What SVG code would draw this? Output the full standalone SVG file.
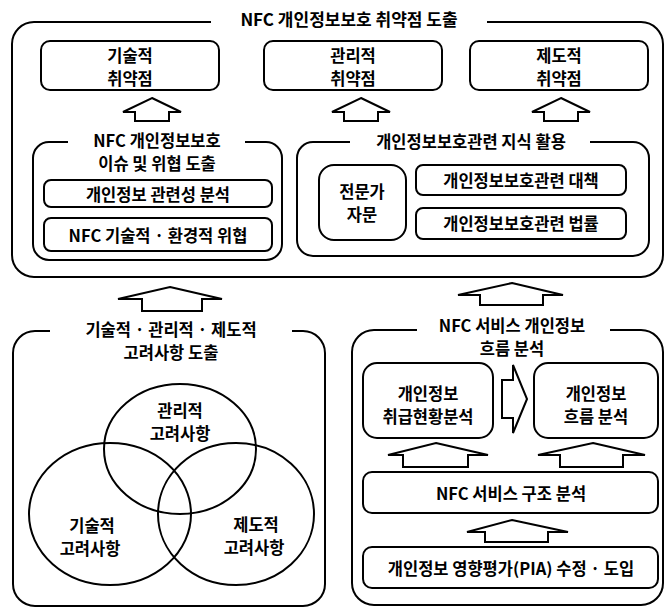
<svg xmlns="http://www.w3.org/2000/svg" width="666" height="608" viewBox="0 0 666 608">
<style>
.frame{fill:none;stroke:#000;stroke-width:2}
.box{fill:#fff;stroke:#000;stroke-width:2}
.arrow{fill:#fff;stroke:#000;stroke-width:2;stroke-linejoin:miter}
.c{fill:none;stroke:#000;stroke-width:2}
text{font-family:"Noto Sans CJK KR","Noto Sans",sans-serif;font-size:16.5px;font-weight:bold;fill:#000;text-anchor:middle;dominant-baseline:central}
</style>
<rect width="666" height="608" fill="#fff"/>

<g id="top-section">
  <path class="frame" d="M211,22 H34 A22,22 0 0 0 12,44 V255 A22,22 0 0 0 34,277 H641 A22,22 0 0 0 663,255 V44 A22,22 0 0 0 641,22 H487"/>
  <text x="349" y="18" style="font-size:17px">NFC 개인정보보호 취약점 도출</text>
</g>

<g id="tech-vuln">
  <rect class="box" x="41" y="41" width="178" height="49" rx="9"/>
  <text x="130" y="54.5">기술적<tspan x="130" dy="23">취약점</tspan></text>
</g>
<g id="mgmt-vuln">
  <rect class="box" x="264" y="41" width="178" height="49" rx="9"/>
  <text x="353" y="54.5">관리적<tspan x="353" dy="23">취약점</tspan></text>
</g>
<g id="inst-vuln">
  <rect class="box" x="470" y="41" width="178" height="49" rx="9"/>
  <text x="559" y="54.5">제도적<tspan x="559" dy="23">취약점</tspan></text>
</g>

<g id="issue-group">
  <path class="frame" d="M68,142 H49 A16,16 0 0 0 33,158 V244 A16,16 0 0 0 49,260 H266 A16,16 0 0 0 282,244 V158 A16,16 0 0 0 266,142 H245"/>
  <text x="157" y="139.5">NFC 개인정보보호<tspan x="157" dy="23">이슈 및 위협 도출</tspan></text>
</g>
<g id="relevance">
  <rect class="box" x="44" y="180" width="228" height="27" rx="7"/>
  <text x="158" y="194">개인정보 관련성 분석</text>
</g>
<g id="threat">
  <rect class="box" x="44" y="218" width="228" height="33" rx="7"/>
  <text x="158" y="235">NFC 기술적 · 환경적 위협</text>
</g>

<g id="knowledge-group">
  <path class="frame" d="M350,142 H313 A16,16 0 0 0 297,158 V240 A16,16 0 0 0 313,256 H633 A16,16 0 0 0 649,240 V158 A16,16 0 0 0 633,142 H590"/>
  <text x="471" y="141">개인정보보호관련 지식 활용</text>
</g>
<g id="expert">
  <rect class="box" x="319" y="165" width="87" height="75" rx="15"/>
  <text x="362" y="190.5">전문가<tspan x="362" dy="23">자문</tspan></text>
</g>
<g id="measures">
  <rect class="box" x="416" y="165" width="210" height="30" rx="7"/>
  <text x="521" y="180">개인정보보호관련 대책</text>
</g>
<g id="laws">
  <rect class="box" x="416" y="208" width="210" height="31" rx="7"/>
  <text x="521" y="223">개인정보보호관련 법률</text>
</g>

<g id="consider-group">
  <path class="frame" d="M50,331 H35 A22,22 0 0 0 13,353 V584 A22,22 0 0 0 35,606 H303 A22,22 0 0 0 325,584 V353 A22,22 0 0 0 303,331 H292"/>
  <text x="171" y="328.5">기술적 · 관리적 · 제도적<tspan x="171" dy="23">고려사항 도출</tspan></text>
</g>
<g id="venn">
  <ellipse class="c" cx="180" cy="449" rx="76" ry="65"/>
  <ellipse class="c" cx="110" cy="514" rx="81" ry="71"/>
  <ellipse class="c" cx="236" cy="514" rx="78" ry="71"/>
  <text x="180" y="409.5">관리적<tspan x="180" dy="23">고려사항</tspan></text>
  <text x="92" y="524.5">기술적<tspan x="90" dy="23">고려사항</tspan></text>
  <text x="256" y="523.5">제도적<tspan x="254" dy="23">고려사항</tspan></text>
</g>

<g id="flow-group">
  <path class="frame" d="M417,330 H374 A22,22 0 0 0 352,352 V583 A22,22 0 0 0 374,605 H641 A22,22 0 0 0 663,583 V352 A22,22 0 0 0 641,330 H610"/>
  <text x="512" y="325">NFC 서비스 개인정보<tspan x="512" dy="23">흐름 분석</tspan></text>
</g>
<g id="handling">
  <rect class="box" x="363" y="363" width="130" height="75" rx="14"/>
  <text x="428" y="392.5">개인정보<tspan x="428" dy="23">취급현황분석</tspan></text>
</g>
<g id="flow">
  <rect class="box" x="534" y="363" width="124" height="75" rx="14"/>
  <text x="596" y="392.5">개인정보<tspan x="596" dy="23">흐름 분석</tspan></text>
</g>
<g id="structure">
  <rect class="box" x="363" y="472" width="295" height="41" rx="9"/>
  <text x="511" y="493">NFC 서비스 구조 분석</text>
</g>
<g id="pia">
  <rect class="box" x="363" y="547" width="295" height="41" rx="9"/>
  <text x="511" y="568">개인정보 영향평가(PIA) 수정 · 도입</text>
</g>

<g id="connectors">
  <path class="arrow" d="M152,98 L181,112 H169 V121 H135 V112 H123 Z"/>
  <path class="arrow" d="M361,98 L390,112 H378 V121 H344 V112 H332 Z"/>
  <path class="arrow" d="M561,98 L590,112 H578 V121 H544 V112 H532 Z"/>
  <path class="arrow" d="M170,287 L222,299 H202 V311 H142 V299 H118 Z"/>
  <path class="arrow" d="M512,283 L563,295 H543 V305 H480 V295 H458 Z"/>
  <path class="arrow" d="M527,399 L513,433 V418 H502 V380 H513 V365 Z"/>
  <path class="arrow" d="M436,443 L488,455 H468 V467 H403 V455 H388 Z"/>
  <path class="arrow" d="M593,443 L645,455 H623 V467 H560 V455 H538 Z"/>
  <path class="arrow" d="M512,520 L568,532 H548 V542 H485 V532 H467 Z"/>
</g>
</svg>
